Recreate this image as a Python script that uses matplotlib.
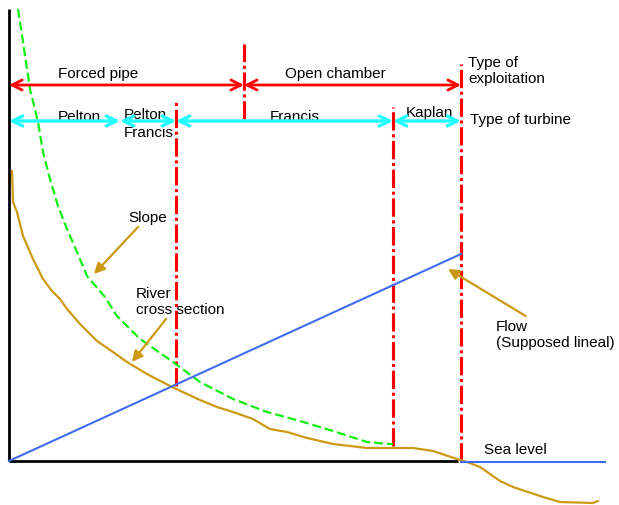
import matplotlib
matplotlib.use("Agg")
import matplotlib.pyplot as plt

plt.rcParams['font.family'] = ['Liberation Sans', 'DejaVu Sans']

# schematic coordinates: x = distance along the river, y = height above sea level
river_x = [3, 4, 8, 14, 24, 34, 43, 51, 58, 71, 88, 104, 118, 138, 161, 178, 191, 208,
           224, 244, 261, 278, 298, 324, 358, 404, 424, 448, 458, 471, 491, 504, 534,
           551, 584, 589]
river_y = [290, 259, 249, 225, 202, 182, 170, 162, 152, 137, 120, 109, 99, 87, 75, 67, 61,
           54, 49, 42, 32, 29, 23, 17, 13, 13, 10, 2, -1, -6, -20, -26, -36, -41, -42, -40]

slope_x = [9, 14, 21, 29, 34, 41, 49, 58, 68, 78, 96, 108, 131, 164, 191, 224, 258, 291,
           324, 358, 381, 384]
slope_y = [452, 419, 372, 339, 309, 282, 255, 232, 209, 185, 164, 145, 122, 99, 79, 62,
           49, 40, 30, 19, 17, 17]

flow_x = [0, 452]
flow_y = [0, 207]
sea_x = [452, 596]
sea_y = [-1, -1]

# red dash-dot separators: (x, bottom, top)
separators = [(235, 342, 417), (167, 75, 359), (384, 15, 354), (452, 0, 397)]

exploit_y = 376
exploit_bounds = [0, 235, 452]
turbine_y = 340
turbine_bounds = [0, 111, 167, 384, 452]

RED = '#ff0000'
CYAN = '#22ffff'
GREEN = '#11ee11'
BLUE = '#3f6cf0'
GOLD = '#cc9912'

fig = plt.figure(figsize=(6.19, 5.06), dpi=100)
ax = fig.add_axes([0, 0, 1, 1])
ax.set_xlim(-9, 610)
ax.set_ylim(-44, 462)
ax.axis('off')

# axes of the sketch
ax.plot([0, 0], [0, 452], color='black', lw=2, solid_capstyle='butt', zorder=2)
ax.plot([0, 449], [0, 0], color='black', lw=2, solid_capstyle='butt', zorder=2)

for x, y0, y1 in separators:
    ax.plot([x, x], [y0, y1], color=RED, lw=2.2, linestyle=(0, (6, 1.2, 1, 1.2)), zorder=3)

ax.plot(slope_x, slope_y, color=GREEN, lw=1.6, linestyle=(0, (4, 1.8)), zorder=4)
ax.plot(river_x, river_y, color=GOLD, lw=1.6, zorder=4)
ax.plot(flow_x, flow_y, color=BLUE, lw=1.5, zorder=5)
ax.plot(sea_x, sea_y, color=BLUE, lw=1.5, zorder=5)

for a, b in zip(exploit_bounds[:-1], exploit_bounds[1:]):
    ax.annotate('', xy=(a, exploit_y), xytext=(b, exploit_y),
                arrowprops=dict(arrowstyle='<->', color=RED, lw=2,
                                mutation_scale=18, shrinkA=0, shrinkB=0), zorder=6)
for a, b in zip(turbine_bounds[:-1], turbine_bounds[1:]):
    ax.annotate('', xy=(a, turbine_y), xytext=(b, turbine_y),
                arrowprops=dict(arrowstyle='<->', color=CYAN, lw=2.4,
                                mutation_scale=18, shrinkA=0, shrinkB=0), zorder=6)

fs = 11
ax.text(89, 388, 'Forced pipe', fontsize=fs, ha='center', va='center')
ax.text(326, 388, 'Open chamber', fontsize=fs, ha='center', va='center')
ax.text(459, 391, 'Type of\nexploitation', fontsize=fs, ha='left', va='center', linespacing=1.2)
ax.text(49, 345, 'Pelton', fontsize=fs, ha='left', va='center')
ax.text(115, 338, 'Pelton\nFrancis', fontsize=fs, ha='left', va='center', linespacing=1.3)
ax.text(261, 345, 'Francis', fontsize=fs, ha='left', va='center')
ax.text(397, 349, 'Kaplan', fontsize=fs, ha='left', va='center')
ax.text(461, 342, 'Type of turbine', fontsize=fs, ha='left', va='center')
ax.text(475, 12, 'Sea level', fontsize=fs, ha='left', va='center')

ann = dict(arrowstyle='-|>', color=GOLD, lw=1.6, mutation_scale=16, shrinkA=0, shrinkB=0)
ax.annotate('Slope', xy=(85, 187), xytext=(119, 244), fontsize=fs,
            ha='left', va='center', arrowprops=ann, zorder=7)
ax.annotate('River\ncross section', xy=(123, 99), xytext=(127, 160), fontsize=fs,
            ha='left', va='center', linespacing=1.2, arrowprops=ann, zorder=7)
ax.annotate('Flow\n(Supposed lineal)', xy=(439, 192), xytext=(487, 127), fontsize=fs,
            ha='left', va='center', linespacing=1.2, arrowprops=ann, zorder=7)

fig.savefig('out.png', dpi=100)
